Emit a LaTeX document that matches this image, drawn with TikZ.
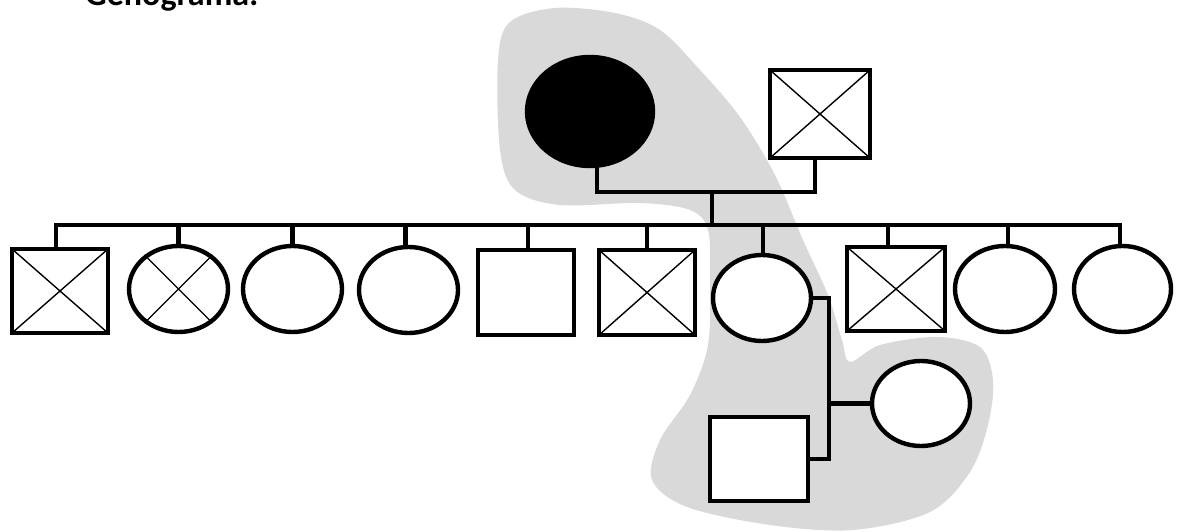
\documentclass[tikz,border=0pt]{standalone}
\usepackage{fontspec}
\setmainfont{Carlito}
\usetikzlibrary{shapes.geometric,calc}
\definecolor{hl}{HTML}{D9D9D9}
\pgfdeclarelayer{bg}
\pgfsetlayers{bg,main}
\begin{document}
\begin{tikzpicture}[x=1pt,y=-1pt,
  thickline/.style={line width=4.4pt},
  thinline/.style={line width=1.4pt},
  male/.style={draw,thickline,fill=white,rectangle,inner sep=0pt},
  female/.style={draw,thickline,fill=white,ellipse,inner sep=0pt},
  crossed/.style={path picture={\draw[thinline]
      (path picture bounding box.north west) -- (path picture bounding box.south east)
      (path picture bounding box.north east) -- (path picture bounding box.south west);}},
  link/.style={thickline,line cap=rect,line join=miter}]
\useasboundingbox (0,0) rectangle (1179,532);
\clip (0,0) rectangle (1179,532);
\node[anchor=base west,inner sep=0pt,font=\bfseries\fontsize{34}{40}\selectfont] (title) at (85,5.5) {Genograma:};
% parents
\node[female,fill=black,minimum width=126pt,minimum height=109pt] (m) at (590,111.5) {};
\node[male,crossed,minimum width=100pt,minimum height=88pt] (f) at (820,114) {};
% children
\node[male,crossed,minimum width=96pt,minimum height=84pt] (s1) at (60,291) {};
\node[female,minimum width=99pt,minimum height=86pt] (c2) at (178.5,289) {};
\node[female,minimum width=99pt,minimum height=86pt] (c3) at (292.5,289) {};
\node[female,minimum width=99pt,minimum height=86pt] (c4) at (408.5,290) {};
\node[male,minimum width=96pt,minimum height=85pt] (s5) at (526,292.5) {};
\node[male,crossed,minimum width=96pt,minimum height=85pt] (s6) at (647,292.5) {};
\node[female,minimum width=98pt,minimum height=86pt] (c7) at (762,298) {};
\node[male,crossed,minimum width=98pt,minimum height=84pt] (s8) at (896,289) {};
\node[female,minimum width=100pt,minimum height=86pt] (c9) at (1005,289) {};
\node[female,minimum width=97pt,minimum height=86pt] (c10) at (1122.5,289) {};
% next generation
\node[female,minimum width=98pt,minimum height=85pt] (c11) at (921,403.5) {};
\node[male,minimum width=98pt,minimum height=84pt] (s12) at (759,459) {};
% cross in the ellipse
\draw[thinline] (c2.45) -- (c2.225) (c2.135) -- (c2.315);
\coordinate (bus) at (0,225);
\coordinate (pl) at (0,192);
\coordinate (drop) at (712,0);
\coordinate (cv) at (829,0);
\begin{pgfonlayer}{bg}
\fill[hl] plot[smooth cycle,tension=0.55] coordinates {
 (498,60) (510,22) (555,8) (615,13) (660,30) (700,70) (740,117) (775,175)
 (803,240) (828,295) (842,340) (850,362) (880,345) (937,337) (980,347)
 (993,380) (988,425) (970,472) (930,512) (853,530) (770,525) (687,507)
 (652,480) (660,440) (690,395) (708,345) (710,280) (708,230) (690,210)
 (640,203) (560,205) (515,190) (500,150)};
\draw[link] ([xshift=7pt]m.south) -- ([xshift=7pt]m.south |- pl) -- ([xshift=-5pt]f.south |- pl) -- ([xshift=-5pt]f.south);
\draw[link] (drop |- pl) -- (drop |- bus);
\draw[link] ([xshift=-4pt]s1.north |- bus) -- ([xshift=-2.5pt]c10.north |- bus);
\foreach \n/\dx in {s1/-4,c2/0,c3/0,c4/-3,s5/2,s6/0,c7/1,s8/-8,c9/3,c10/-2.5}{
  \draw[link] ([xshift=\dx pt]\n.north) -- ([xshift=\dx pt]\n.north |- bus);
}
\draw[link] (c7.east) -- (c7.east -| cv) -- (s12.east -| cv) -- (s12.east);
\draw[link] (c11.west) -- (c11.west -| cv);
\end{pgfonlayer}
\end{tikzpicture}
\end{document}
